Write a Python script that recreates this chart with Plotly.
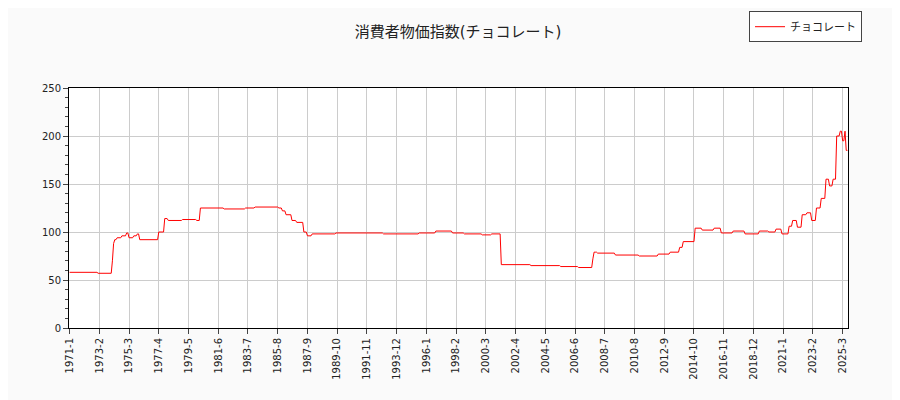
import plotly.graph_objects as go

# step levels, with how many months each lasts
levels = [58, 57, 70, 88, 92, 94, 96, 99, 94, 96, 98, 92,
          100, 114, 112, 113, 112, 125, 124, 125, 126, 125, 122, 118, 112, 110, 100, 96,
          98, 99, 98, 99, 101, 99, 98, 97, 98,
          66, 65, 64, 63, 72, 79, 78, 76, 75, 77, 79, 84, 90, 104, 102, 104, 99, 101, 98,
          101, 100, 103, 98, 106, 112, 105, 118, 120, 112, 125, 135, 155, 148, 155, 200,
          205, 195, 205, 185]
months = [24, 12, 1, 1, 2, 4, 4, 2, 4, 3, 2, 16,
          5, 3, 12, 12, 3, 20, 18, 8, 20, 3, 3, 5, 4, 6, 3, 4,
          20, 40, 30, 14, 14, 10, 15, 8, 8,
          25, 25, 15, 12, 1, 3, 15, 20, 16, 10, 8, 3, 10, 6, 10, 6, 10, 10, 12,
          8, 6, 5, 6, 3, 4, 4, 4, 4, 4, 4, 4, 3, 3, 3, 3,
          2, 2, 1, 2]

values = []
for v, n in zip(levels, months):
    values += [v] * n

labels = []
y, m = 1971, 1
for _ in values:
    labels.append(f"{y}-{m}")
    m += 1
    if m > 12:
        y, m = y + 1, 1

tick_labels = labels[::25]

fig = go.Figure()
fig.add_trace(go.Scatter(x=labels, y=values, mode="lines", name="チョコレート",
                         line=dict(color="red", width=1)))
fig.update_layout(
    title=dict(text="消費者物価指数(チョコレート)", x=0.5, xanchor="center", y=0.955, font=dict(size=15)),
    font=dict(family="DejaVu Sans, Noto Sans CJK JP", size=10, color="#222"),
    paper_bgcolor="#fafafa", plot_bgcolor="white",
    width=900, height=400,
    margin=dict(l=61, r=60, t=80, b=80, autoexpand=False),
    showlegend=True,
    legend=dict(x=1.018, y=1.32, xanchor="right", yanchor="top",
                bordercolor="#444", borderwidth=1, bgcolor="white",
                font=dict(family="Noto Sans CJK JP", size=11)),
)
fig.update_xaxes(type="category", tickmode="array", tickvals=tick_labels, ticktext=tick_labels,
                 tickangle=-90, showgrid=True, gridcolor="#ccc", showline=True,
                 linecolor="black", mirror=True, ticks="outside", range=[-0.5, len(values) - 0.5])
fig.update_yaxes(range=[0, 250], dtick=50, showgrid=True, gridcolor="#ccc", showline=True,
                 linecolor="black", mirror=True, ticks="outside",
                 minor=dict(dtick=10, ticks="outside", ticklen=3))
fig.write_html("out.html")
